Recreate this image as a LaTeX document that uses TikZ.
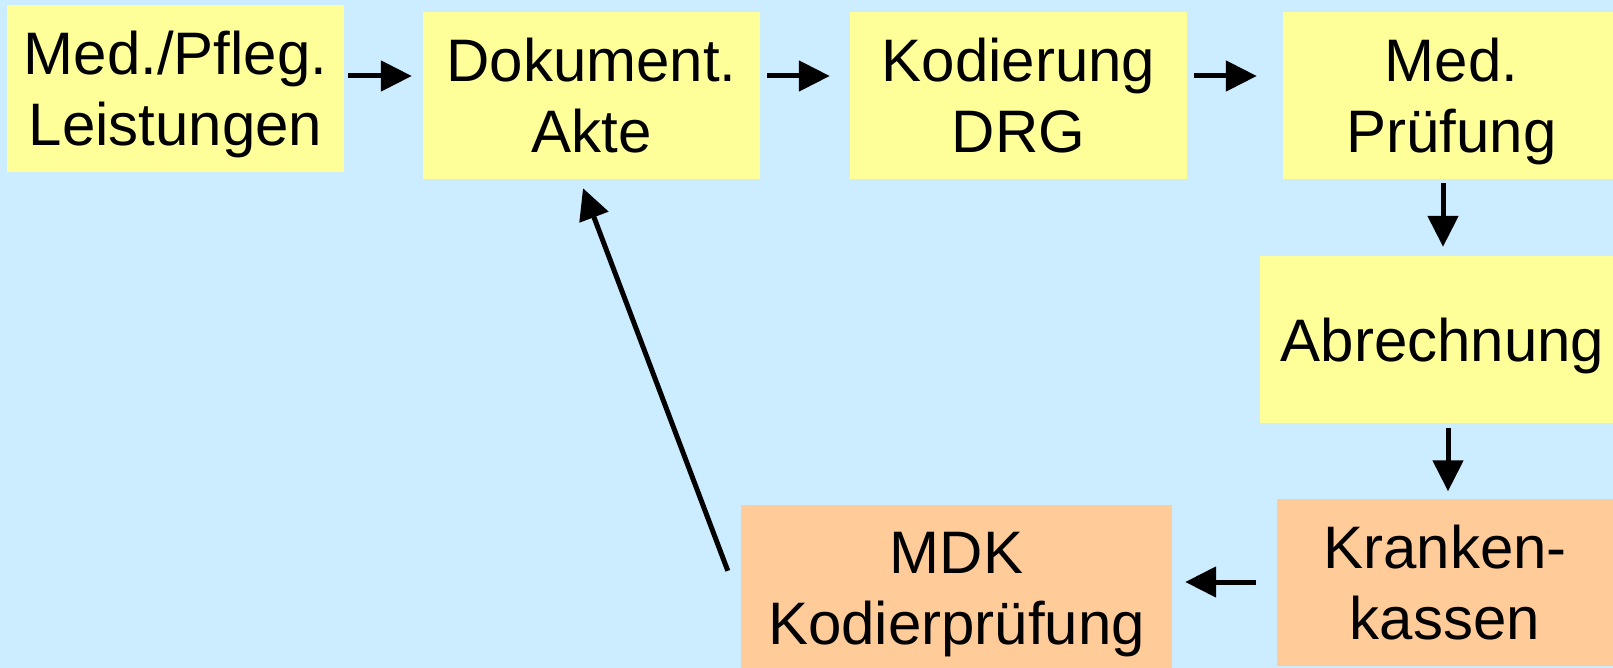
\documentclass[tikz,border=0pt]{standalone}
\usepackage{fontspec}
\setmainfont{Liberation Sans}
\usetikzlibrary{arrows.meta}
\definecolor{bg}{RGB}{204,236,255}
\definecolor{ylw}{RGB}{255,255,153}
\definecolor{org}{RGB}{255,204,153}
\newcommand\ndp[1]{\raisebox{0pt}[\height][0pt]{#1}}
\begin{document}
\begin{tikzpicture}[x=1pt,y=-1pt,
  box/.style={inner sep=0pt, minimum height=167pt, align=center, font=\fontsize{60}{71}\selectfont},
  ybox/.style={box, fill=ylw},
  obox/.style={box, fill=org},
  arr/.style={line width=5pt, -{Triangle[length=31pt,width=30pt]}}]
\fill[bg] (0,0) rectangle (1613,668);
\useasboundingbox (0,0) rectangle (1613,668);
\node[ybox, minimum width=337pt] (b1) at (175.5,88.5) {Med./Pfleg.\\\ndp{Leistungen}};
\node[ybox, minimum width=337pt] (b2) at (591.5,95.5) {Dokument.\\\ndp{Akte}};
\node[ybox, minimum width=337pt] (b3) at (1018.5,95.5) {Kodierung\\\ndp{DRG}};
\node[ybox, minimum width=337pt] (b4) at (1451.5,95.5) {Med.\\\ndp{Prüfung}};
\node[ybox, minimum width=365pt] (b5) at (1442.5,339.5) {\ndp{Abrechnung}};
\node[obox, minimum width=336pt] (b6) at (1445,582) {Kranken-\\\ndp{kassen}};
\node[obox, minimum width=431pt] (b7) at (956.5,588.5) {MDK\\\ndp{Kodierprüfung}};
\draw[arr] ([shift={(4pt,12.5pt)}]b1.east) -- ([shift={(-11pt,19.5pt)}]b2.west);
\draw[arr] ([shift={(7pt,19.5pt)}]b2.east) -- ([shift={(-20pt,19.5pt)}]b3.west);
\draw[arr] ([shift={(7pt,19.5pt)}]b3.east) -- ([shift={(-26pt,19.5pt)}]b4.west);
\draw[arr] ([shift={(-8.5pt,-4pt)}]b4.south) -- ([shift={(0.5pt,9pt)}]b5.north);
\draw[arr] ([shift={(5.5pt,-5pt)}]b5.south) -- ([shift={(3pt,7pt)}]b6.north);
\draw[arr] ([shift={(-21pt,0pt)}]b6.west) -- ([shift={(13pt,6.5pt)}]b7.east);
\draw[arr] ([shift={(-13pt,-66pt)}]b7.north west) -- ([shift={(-8.5pt,-9pt)}]b2.south);
\end{tikzpicture}
\end{document}
